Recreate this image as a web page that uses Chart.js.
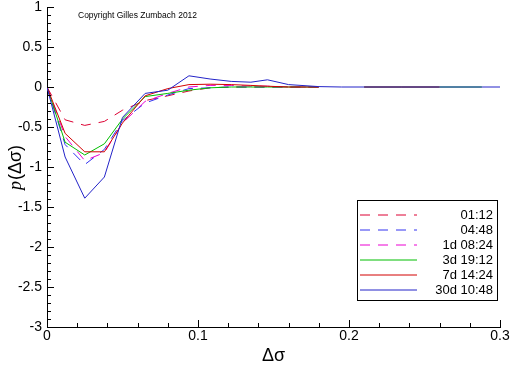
<!DOCTYPE html>
<html>
<head>
<meta charset="utf-8">
<script src="https://cdn.jsdelivr.net/npm/chart.js@4"></script>
<style>
  html, body { margin: 0; padding: 0; background: #fff; }
  #wrap { width: 512px; height: 366px; position: relative; }
</style>
</head>
<body>
<div id="wrap"><canvas id="myChart" width="512" height="366"></canvas></div>
<script>
// x positions of the samples (delta sigma)
const xs = [0, 0.012, 0.025, 0.038, 0.05, 0.065, 0.08, 0.094, 0.108, 0.122, 0.135, 0.146, 0.16, 0.18, 0.195, 0.21, 0.235, 0.26, 0.288, 0.3];

const labels = ['01:12', '04:48', '1d 08:24', '3d 19:12', '7d 14:24', '30d 10:48'];

const y0112 = [0, -0.41, -0.48, -0.43, -0.29, -0.17, -0.11, -0.05, -0.01, 0, 0, 0, 0, 0, null, null, null, null, null, null];
const y0448 = [0, -0.72, -0.97, -0.78, -0.42, -0.2, -0.1, -0.02, -0.01, 0, 0, 0, 0, 0, null, null, null, null, null, null];
const y1d = [0, -0.62, -0.92, -0.82, -0.45, -0.18, -0.08, 0, 0.02, 0.02, 0.01, 0.01, 0, 0, null, null, null, null, null, null];
const y3d = [0, -0.69, -0.85, -0.71, -0.4, -0.12, -0.08, -0.04, -0.01, 0, 0, 0, 0, 0, null, 0, 0, 0, 0, null];
const y7d = [0, -0.58, -0.81, -0.81, -0.45, -0.11, -0.02, 0.03, 0.035, 0.03, 0.02, 0.01, 0, 0, null, 0, 0, 0, null, null];
const y30d = [0, -0.875, -1.39, -1.125, -0.38, -0.08, -0.04, 0.14, 0.1, 0.07, 0.06, 0.09, 0.03, 0.005, 0, 0, 0, 0, 0, 0];

const seriesValues = [y0112, y0448, y1d, y3d, y7d, y30d];
const seriesColors = ['rgb(220, 0, 50)', 'rgb(50, 50, 240)', 'rgb(235, 0, 210)', 'rgb(0, 190, 0)', 'rgb(210, 0, 0)', 'rgb(35, 35, 200)'];
const seriesDashed = [true, true, true, false, false, false];

const xTicks = [0, 0.1, 0.2, 0.3];
const yTicks = [1, 0.5, 0, -0.5, -1, -1.5, -2, -2.5, -3];

const fontFamily = '"Liberation Sans", Arial, sans-serif';

function makeDatasets() {
    return seriesValues.map((vals, i) => ({
        label: labels[i],
        data: vals.map((v, k) => ({ x: xs[k], y: v })),
        borderColor: seriesColors[i],
        borderWidth: 1,
        borderDash: seriesDashed[i] ? [10, 8] : [],
        pointRadius: 0,
        tension: 0,
        fill: false,
        spanGaps: false,
        order: labels.length - i
    }));
}

function plainNumber(v) {
    return String(+Number(v).toFixed(2));
}

// minor/major inward ticks, axis titles, copyright and the boxed legend
const decorations = {
    id: 'decorations',
    afterDraw(chart) {
        const ctx = chart.ctx;
        const sx = chart.scales.x;
        const sy = chart.scales.y;
        const left = chart.chartArea.left, bottom = chart.chartArea.bottom;

        ctx.save();
        ctx.strokeStyle = '#000';
        ctx.lineWidth = 1;
        ctx.beginPath();
        for (let k = 0; k <= 40; k++) {
            const v = -3 + k * 0.1;
            const py = Math.round(sy.getPixelForValue(v)) + 0.5;
            const len = (k % 5 === 0) ? 7 : 4;
            ctx.moveTo(left, py);
            ctx.lineTo(left + len, py);
        }
        for (let k = 0; k <= 15; k++) {
            const v = k * 0.02;
            const px = Math.round(sx.getPixelForValue(v)) + 0.5;
            const len = (k % 5 === 0) ? 7 : 4;
            ctx.moveTo(px, bottom);
            ctx.lineTo(px, bottom - len);
        }
        ctx.stroke();

        // copyright
        ctx.fillStyle = '#000';
        ctx.font = '8.5px ' + fontFamily;
        ctx.textAlign = 'left';
        ctx.textBaseline = 'middle';
        ctx.fillText('Copyright Gilles Zumbach 2012', 78, 16);

        // x title
        ctx.font = '18px ' + fontFamily;
        ctx.textAlign = 'center';
        ctx.textBaseline = 'middle';
        ctx.fillText('\u0394\u03c3', (chart.chartArea.left + chart.chartArea.right) / 2, 356);

        // y title
        ctx.save();
        ctx.translate(16, 168);
        ctx.rotate(-Math.PI / 2);
        const pFont = 'italic 18px "Liberation Serif", serif';
        const rFont = '18px ' + fontFamily;
        ctx.font = pFont;
        const wp = ctx.measureText('p').width;
        ctx.font = rFont;
        const wr = ctx.measureText('(\u0394\u03c3)').width;
        const start = -(wp + wr) / 2;
        ctx.textAlign = 'left';
        ctx.font = pFont;
        ctx.fillText('p', start, 0);
        ctx.font = rFont;
        ctx.fillText('(\u0394\u03c3)', start + wp + 1, 0);
        ctx.restore();

        // legend box
        ctx.strokeStyle = '#000';
        ctx.strokeRect(357.5, 200.5, 140, 100);
        ctx.font = '13px ' + fontFamily;
        ctx.textAlign = 'right';
        ctx.textBaseline = 'middle';
        for (let i = 0; i < labels.length; i++) {
            const y = 215 + i * 15;
            ctx.beginPath();
            ctx.strokeStyle = seriesColors[i];
            ctx.setLineDash(seriesDashed[i] ? [10, 8] : []);
            ctx.moveTo(360, y);
            ctx.lineTo(417, y);
            ctx.stroke();
            ctx.setLineDash([]);
            ctx.fillStyle = '#000';
            ctx.fillText(labels[i], 493, y);
        }
        ctx.restore();
    }
};

new Chart(document.getElementById('myChart'), {
    type: 'line',
    data: { datasets: makeDatasets() },
    options: {
        responsive: false,
        animation: false,
        layout: { padding: { top: 7, right: 12, left: 0, bottom: 0 } },
        scales: {
            x: {
                type: 'linear',
                min: 0,
                max: 0.3,
                afterFit: (scale) => { scale.height = 39; scale.paddingLeft = 0; scale.paddingRight = 0; },
                afterBuildTicks: (scale) => { scale.ticks = xTicks.map(v => ({ value: v })); },
                ticks: { color: '#000', font: { family: fontFamily, size: 14, lineHeight: 1 }, padding: 2, maxRotation: 0, callback: plainNumber },
                grid: { display: false, drawTicks: false },
                border: { display: true, color: '#000', width: 1 }
            },
            y: {
                min: -3,
                max: 1,
                afterFit: (scale) => { scale.width = 47; scale.paddingTop = 0; scale.paddingBottom = 0; },
                afterBuildTicks: (scale) => { scale.ticks = yTicks.map(v => ({ value: v })); },
                ticks: { color: '#000', font: { family: fontFamily, size: 14, lineHeight: 1 }, padding: 5, callback: plainNumber },
                grid: { display: false, drawTicks: false },
                border: { display: true, color: '#000', width: 1 }
            }
        },
        plugins: {
            legend: { display: false },
            tooltip: { enabled: false },
            title: { display: false }
        }
    },
    plugins: [decorations]
});
</script>
</body>
</html>
